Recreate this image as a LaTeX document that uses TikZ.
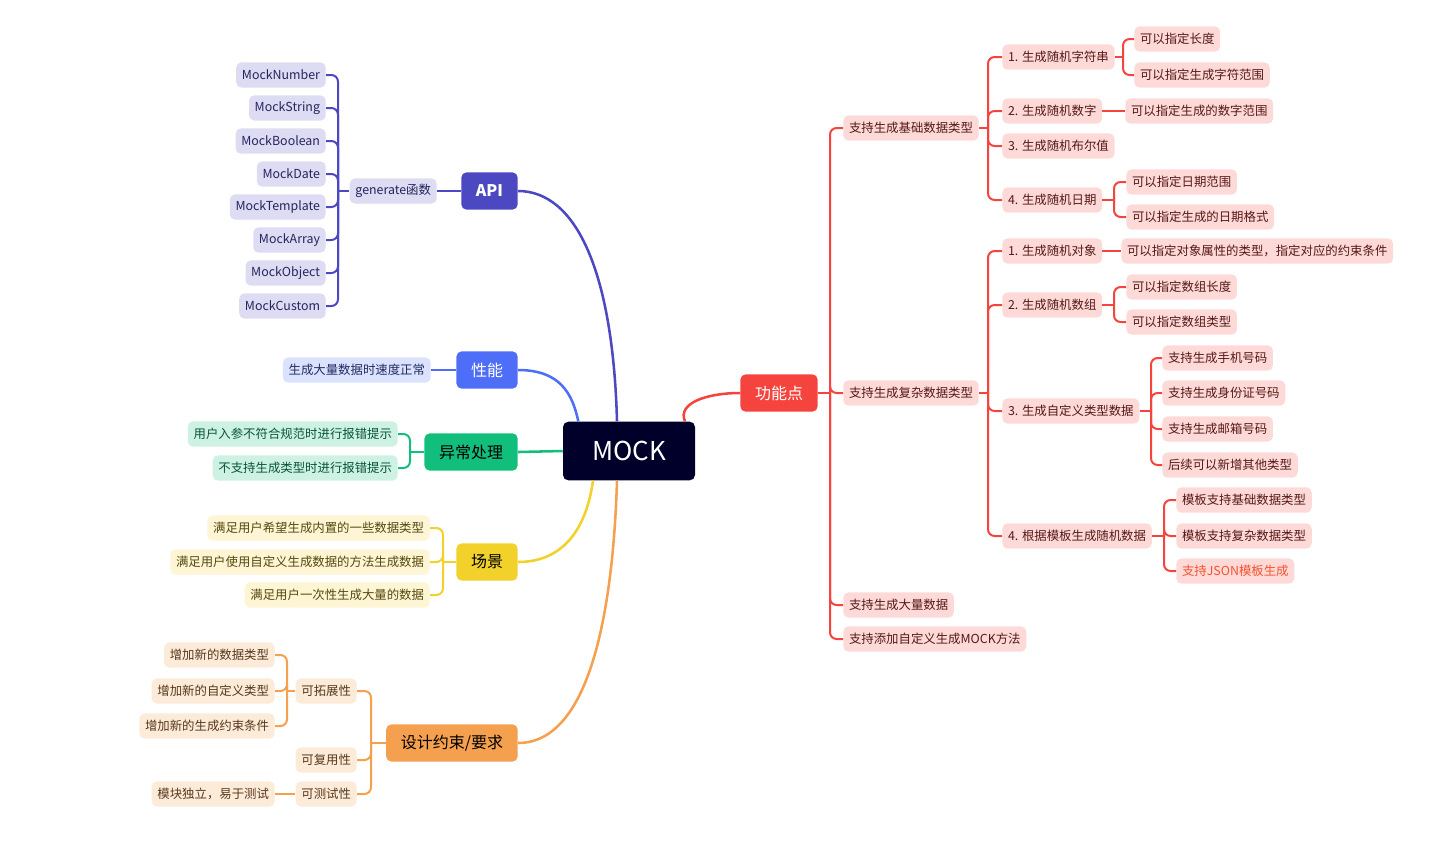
\documentclass[tikz,border=0pt]{standalone}
\usepackage{fontspec}
\setmainfont{Noto Sans CJK SC}
\definecolor{mocknavy}{HTML}{00002A}
\definecolor{apiblue}{HTML}{4B48C1}
\definecolor{apileaf}{HTML}{DDDCF2}
\definecolor{perfblue}{HTML}{4F6EF7}
\definecolor{perfleaf}{HTML}{DBE2FD}
\definecolor{errgreen}{HTML}{12BE7C}
\definecolor{errleaf}{HTML}{CDF2E4}
\definecolor{sceneyellow}{HTML}{F2D12A}
\definecolor{sceneleaf}{HTML}{FDF5D3}
\definecolor{designorange}{HTML}{F5A04E}
\definecolor{designleaf}{HTML}{FDEBDA}
\definecolor{fnred}{HTML}{F5443E}
\definecolor{fnleaf}{HTML}{FDDAD8}
\definecolor{jsonred}{HTML}{F5522D}
\begin{document}
\begin{tikzpicture}[x = 0.75pt, y = -0.75pt,
    root/.style = {fill=mocknavy, text=white, rounded corners=4pt,
        minimum width=99pt, minimum height=44pt, font=\fontsize{19.5}{22}\selectfont},
    topic/.style = {rounded corners=4pt, minimum height=28pt, inner xsep=11pt,
        font=\fontsize{12}{14}\selectfont},
    leaf/.style = {rounded corners=4pt, minimum height=19pt, inner xsep=4.3pt,
        inner ysep=2pt, font=\fontsize{9.3}{11}\selectfont},
    trunk/.style = {line width=1.9pt},
    twig/.style = {line width=1.5pt, rounded corners=5pt}]

    \useasboundingbox (0,0) rectangle (1451,851);

    % Centro
    \node[root] (mock) at (629,451) {MOCK};

    % Rami principali
    \node[topic, fill=apiblue, text=white, anchor=east] (api) at (518,191) {\bfseries API};
    \node[topic, fill=perfblue, text=white, anchor=east] (perf) at (518,370) {性能};
    \node[topic, fill=errgreen, text=black, anchor=east] (err) at (518,452) {异常处理};
    \node[topic, fill=sceneyellow, text=black, anchor=east] (scene) at (518,562) {场景};
    \node[topic, fill=designorange, text=black, anchor=east] (design) at (518,743) {设计约束/要求};
    \node[topic, fill=fnred, text=white] (fn) at (779,393) {功能点};

    \draw[trunk, apiblue] (api.east) .. controls +(58,0) and +(-4,-150) .. ([xshift=-9pt]mock.north);
    \draw[trunk, perfblue] (perf.east) .. controls +(42,0) and +(-6,-28) .. ([xshift=-38pt]mock.north);
    \draw[trunk, errgreen] (err.east) -- (mock.west);
    \draw[trunk, sceneyellow] (scene.east) .. controls +(48,0) and +(-6,44) .. ([xshift=-27pt]mock.south);
    \draw[trunk, designorange] (design.east) .. controls +(72,0) and +(-4,130) .. ([xshift=-9pt]mock.south);
    \draw[trunk, fnred] (fn.west) .. controls +(-34,0) and +(-8,-18) .. ([xshift=42pt]mock.north);

    % API
    \begin{scope}[every node/.style={leaf, fill=apileaf, text=apiblue!50!black, anchor=east}]
        \node (gen) at (437,191) {generate函数};
        \node (mNumber) at (326,75) {MockNumber};
        \node (mString) at (326,108) {MockString};
        \node (mBoolean) at (326,141) {MockBoolean};
        \node (mDate) at (326,174) {MockDate};
        \node (mTemplate) at (326,207) {MockTemplate};
        \node (mArray) at (326,240) {MockArray};
        \node (mObject) at (326,273) {MockObject};
        \node (mCustom) at (326,306) {MockCustom};
    \end{scope}
    \coordinate (genJ) at (338,191);
    \draw[twig, apiblue] (api.west) -- (gen.east);
    \draw[twig, apiblue] (gen.west) -- (genJ);
    \foreach \n in {mNumber,mString,mBoolean,mDate,mTemplate,mArray,mObject,mCustom}
        \draw[twig, apiblue] (genJ) |- (\n.east);

    % Prestazioni
    \node[leaf, fill=perfleaf, text=perfblue!40!black, anchor=east] (speed) at (431,370) {生成大量数据时速度正常};
    \draw[twig, perfblue] (perf.west) -- (speed.east);

    % Gestione errori
    \node[leaf, fill=errleaf, text=errgreen!45!black, anchor=east] (errArg) at (398,434) {用户入参不符合规范时进行报错提示};
    \node[leaf, fill=errleaf, text=errgreen!45!black, anchor=east] (errType) at (398,468) {不支持生成类型时进行报错提示};
    \coordinate (errJ) at (410,452);
    \draw[twig, errgreen] (err.west) -- (errJ);
    \foreach \n in {errArg,errType}
        \draw[twig, errgreen] (errJ) |- (\n.east);

    % Scenari
    \node[leaf, fill=sceneleaf, text=sceneyellow!35!black, anchor=east] (scBuiltin) at (430,528) {满足用户希望生成内置的一些数据类型};
    \node[leaf, fill=sceneleaf, text=sceneyellow!35!black, anchor=east] (scCustom) at (430,562) {满足用户使用自定义生成数据的方法生成数据};
    \node[leaf, fill=sceneleaf, text=sceneyellow!35!black, anchor=east] (scBulk) at (430,595) {满足用户一次性生成大量的数据};
    \coordinate (sceneJ) at (443,562);
    \draw[twig, sceneyellow] (scene.west) -- (sceneJ);
    \foreach \n in {scBuiltin,scCustom,scBulk}
        \draw[twig, sceneyellow] (sceneJ) |- (\n.east);

    % Vincoli di progetto
    \begin{scope}[every node/.style={leaf, fill=designleaf, text=designorange!35!black, anchor=east}]
        \node (dExt) at (357,691) {可拓展性};
        \node (dReuse) at (357,760) {可复用性};
        \node (dTest) at (357,794) {可测试性};
        \node (dExtType) at (275,655) {增加新的数据类型};
        \node (dExtCustom) at (275,691) {增加新的自定义类型};
        \node (dExtRule) at (275,726) {增加新的生成约束条件};
        \node (dTestMod) at (275,794) {模块独立，易于测试};
    \end{scope}
    \coordinate (designJ) at (371,743);
    \coordinate (dExtJ) at (287,691);
    \draw[twig, designorange] (design.west) -- (designJ);
    \foreach \n in {dExt,dReuse,dTest}
        \draw[twig, designorange] (designJ) |- (\n.east);
    \draw[twig, designorange] (dExt.west) -- (dExtJ);
    \foreach \n in {dExtType,dExtCustom,dExtRule}
        \draw[twig, designorange] (dExtJ) |- (\n.east);
    \draw[twig, designorange] (dTest.west) -- (dTestMod.east);

    % Funzionalita
    \begin{scope}[every node/.style={leaf, fill=fnleaf, text=fnred!35!black, anchor=west}]
        \node (fBasic) at (843,128) {支持生成基础数据类型};
        \node (fComplex) at (843,393) {支持生成复杂数据类型};
        \node (fBulk) at (843,605) {支持生成大量数据};
        \node (fCustom) at (843,639) {支持添加自定义生成MOCK方法};
        % tipi base
        \node (bStr) at (1002,57) {1. 生成随机字符串};
        \node (bNum) at (1002,111) {2. 生成随机数字};
        \node (bBool) at (1002,146) {3. 生成随机布尔值};
        \node (bDate) at (1002,200) {4. 生成随机日期};
        \node (bStrLen) at (1134,39) {可以指定长度};
        \node (bStrRange) at (1134,75) {可以指定生成字符范围};
        \node (bNumRange) at (1125,111) {可以指定生成的数字范围};
        \node (bDateRange) at (1126,182) {可以指定日期范围};
        \node (bDateFmt) at (1126,217) {可以指定生成的日期格式};
        % tipi complessi
        \node (cObj) at (1002,251) {1. 生成随机对象};
        \node (cArr) at (1002,305) {2. 生成随机数组};
        \node (cDef) at (1002,411) {3. 生成自定义类型数据};
        \node (cTpl) at (1002,536) {4. 根据模板生成随机数据};
        \node (cObjRule) at (1121,251) {可以指定对象属性的类型，指定对应的约束条件};
        \node (cArrLen) at (1126,287) {可以指定数组长度};
        \node (cArrType) at (1126,322) {可以指定数组类型};
        \node (cDefPhone) at (1162,358) {支持生成手机号码};
        \node (cDefId) at (1162,393) {支持生成身份证号码};
        \node (cDefMail) at (1162,429) {支持生成邮箱号码};
        \node (cDefMore) at (1162,465) {后续可以新增其他类型};
        \node (cTplBasic) at (1176,500) {模板支持基础数据类型};
        \node (cTplComplex) at (1176,536) {模板支持复杂数据类型};
        \node[text=jsonred] (cTplJson) at (1176,571) {支持JSON模板生成};
    \end{scope}

    \coordinate (fnJ) at (830,393);
    \coordinate (basicJ) at (988,128);
    \coordinate (bStrJ) at (1123,57);
    \coordinate (bDateJ) at (1114,200);
    \coordinate (complexJ) at (988,393);
    \coordinate (cArrJ) at (1114,305);
    \coordinate (cDefJ) at (1151,411);
    \coordinate (cTplJ) at (1164,536);

    \draw[twig, fnred] (fn.east) -- (fnJ);
    \foreach \n in {fBasic,fComplex,fBulk,fCustom}
        \draw[twig, fnred] (fnJ) |- (\n.west);

    \draw[twig, fnred] (fBasic.east) -- (basicJ);
    \foreach \n in {bStr,bNum,bBool,bDate}
        \draw[twig, fnred] (basicJ) |- (\n.west);
    \draw[twig, fnred] (bStr.east) -- (bStrJ);
    \foreach \n in {bStrLen,bStrRange}
        \draw[twig, fnred] (bStrJ) |- (\n.west);
    \draw[twig, fnred] (bNum.east) -- (bNumRange.west);
    \draw[twig, fnred] (bDate.east) -- (bDateJ);
    \foreach \n in {bDateRange,bDateFmt}
        \draw[twig, fnred] (bDateJ) |- (\n.west);

    \draw[twig, fnred] (fComplex.east) -- (complexJ);
    \foreach \n in {cObj,cArr,cDef,cTpl}
        \draw[twig, fnred] (complexJ) |- (\n.west);
    \draw[twig, fnred] (cObj.east) -- (cObjRule.west);
    \draw[twig, fnred] (cArr.east) -- (cArrJ);
    \foreach \n in {cArrLen,cArrType}
        \draw[twig, fnred] (cArrJ) |- (\n.west);
    \draw[twig, fnred] (cDef.east) -- (cDefJ);
    \foreach \n in {cDefPhone,cDefId,cDefMail,cDefMore}
        \draw[twig, fnred] (cDefJ) |- (\n.west);
    \draw[twig, fnred] (cTpl.east) -- (cTplJ);
    \foreach \n in {cTplBasic,cTplComplex,cTplJson}
        \draw[twig, fnred] (cTplJ) |- (\n.west);

\end{tikzpicture}
\end{document}
